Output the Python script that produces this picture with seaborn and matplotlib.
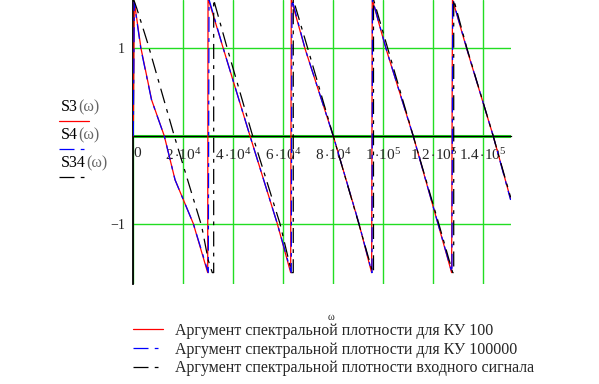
import numpy as np
import pandas as pd
import matplotlib
matplotlib.use("Agg")
import matplotlib.pyplot as plt
import seaborn as sns
from matplotlib.lines import Line2D

# ---- data (omega, argument in rad) ----
omega_s3 = [0, 400, 680, 3080, 7350, 12400, 16700, 24000, 29760, 29900,
            30680, 36000, 46700, 57600, 62960, 63200,
            68680, 80000, 90280, 95360, 95600,
            101080, 112000, 121880, 127360, 127700,
            133360, 144000, 150960]
phase_s3 = [0.0, 1.53, 1.48, 1.0, 0.41, 0.0, -0.5, -1.0, -1.56, 1.56,
            1.50, 1.0, 0.0, -1.0, -1.56, 1.56,
            1.0, 0.0, -1.0, -1.56, 1.56,
            1.0, 0.0, -1.0, -1.56, 1.56,
            1.0, 0.0, -0.72]

omega_s4 = [0, 400, 700, 3000, 7300, 12400, 16700, 24000, 30000, 30300,
            30900, 36000, 46700, 57600, 63200, 63500,
            68700, 80000, 90300, 95500, 95700,
            101100, 112000, 121900, 127500, 127800,
            133400, 144000, 150960]
phase_s4 = [0.0, 1.53, 1.46, 1.0, 0.41, 0.0, -0.5, -1.0, -1.56, 1.56,
            1.50, 1.0, 0.0, -1.0, -1.56, 1.56,
            1.0, 0.0, -1.0, -1.56, 1.56,
            1.0, 0.0, -1.0, -1.56, 1.56,
            1.0, 0.0, -0.73]

omega_s34 = [0, 1360, 5760, 16400, 27360, 30000, 31600, 32160, 32160,
             32700, 37600, 47760, 58680, 63360, 64000, 64000,
             69800, 80000, 90200, 95800, 96100, 96100,
             101800, 112000, 122200, 127800, 128200, 128200,
             133500, 144000, 150960]
phase_s34 = [1.57, 1.46, 1.06, 0.0, -1.03, -1.42, -1.56, -1.56, 1.56,
             1.50, 1.0, 0.0, -1.0, -1.56, -1.56, 1.56,
             1.0, 0.0, -1.0, -1.56, -1.56, 1.56,
             1.0, 0.0, -1.0, -1.56, -1.56, 1.56,
             1.0, 0.0, -0.70]

xtick_vals = [0, 2e4, 4e4, 6e4, 8e4, 1e5, 1.2e5, 1.4e5]
xtick_labels = ["0", r"$2\,{\cdot}10^{4}$", r"$4\,{\cdot}10^{4}$", r"$6\,{\cdot}10^{4}$",
                r"$8\,{\cdot}10^{4}$", r"$1\,{\cdot}10^{5}$", r"$1.2\,{\cdot}10^{5}$",
                r"$1.4\,{\cdot}10^{5}$"]
ytick_vals = [-1, 0, 1]
ytick_labels = ["\u22121", "", "1"]

legend_labels = ["Аргумент спектральной плотности для КУ 100",
                 "Аргумент спектральной плотности для КУ 100000",
                 "Аргумент спектральной плотности входного сигнала"]
series_names = ["S3", "S4", "S34"]

# ---- style ----
sns.set_theme(style="white")
plt.rcParams["font.family"] = ["Liberation Serif", "DejaVu Serif"]
plt.rcParams["mathtext.fontset"] = "custom"
plt.rcParams["mathtext.rm"] = "Liberation Serif"
plt.rcParams["mathtext.it"] = "Liberation Serif:italic"
plt.rcParams["mathtext.bf"] = "Liberation Serif:bold"

GREEN = "#22dd22"
RED = "#ff0000"
BLUE = "#0000ff"
BLACK = "#000000"
DASH = (0, (12, 5, 3, 5))

fig = plt.figure(figsize=(5.99, 3.84), dpi=100)
fig.patch.set_facecolor("white")
W, H = 599, 384
ax = fig.add_axes([133.3 / W, 100 / H, 377.4 / W, 284 / H])
ax.set_facecolor("white")

df3 = pd.DataFrame({"w": omega_s3, "v": phase_s3})
df4 = pd.DataFrame({"w": omega_s4, "v": phase_s4})
df34 = pd.DataFrame({"w": omega_s34, "v": phase_s34})

sns.lineplot(data=df3, x="w", y="v", sort=False, estimator=None, color=RED,
             lw=0.9, ax=ax, zorder=3)
sns.lineplot(data=df4, x="w", y="v", sort=False, estimator=None, color=BLUE,
             lw=0.9, linestyle=DASH, ax=ax, zorder=4)
sns.lineplot(data=df34, x="w", y="v", sort=False, estimator=None, color=BLACK,
             lw=0.9, linestyle=DASH, ax=ax, zorder=5)

ax.set_xlim(0, 1.51e5)
ax.set_ylim(-1.69, 1.553)
ax.set_xlabel("")
ax.set_ylabel("")

ax.set_xticks(xtick_vals)
ax.set_xticklabels(xtick_labels, fontsize=9.5)
ax.set_yticks(ytick_vals)
ax.set_yticklabels(ytick_labels, fontsize=10)

ax.grid(True, color=GREEN, lw=1.0)
ax.set_axisbelow(True)
ax.axhline(0, color=GREEN, lw=2.2, zorder=1)

for s in ["top", "right"]:
    ax.spines[s].set_visible(False)
ax.spines["left"].set_color(BLACK)
ax.spines["left"].set_linewidth(1.3)
ax.spines["bottom"].set_position(("data", 0))
ax.spines["bottom"].set_color(BLACK)
ax.spines["bottom"].set_linewidth(0.9)
ax.spines["bottom"].set_zorder(2)

ax.tick_params(axis="y", direction="out", length=4, width=0.9, color=BLACK, pad=2)
ax.tick_params(axis="x", direction="in", length=3, width=0.9, color=BLACK, pad=8)
lbls = ax.get_xticklabels()
lbls[0].set_ha("left")

# ---- stacked y-axis label with line samples ----
def fx(px):
    return px / W

def fy(py):
    return 1 - py / H

ylab_rows = [(107, 121, RED, "-"), (135, 149, BLUE, DASH), (163, 177, BLACK, DASH)]
for name, (ty, ly, col, ls) in zip(series_names, ylab_rows):
    t1 = fig.text(fx(61), fy(ty), name, fontsize=11.5, va="center", ha="left", color=BLACK)
    ax.annotate("(\u03c9)", xy=(1, 0), xycoords=t1, va="bottom", ha="left",
                fontsize=11.5, color="#666666", annotation_clip=False)
    fig.add_artist(Line2D([fx(59), fx(89)], [fy(ly), fy(ly)], color=col, lw=0.9,
                          linestyle=ls, transform=fig.transFigure))

# ---- x axis label ----
fig.text(fx(331), fy(317), "\u03c9", fontsize=7.5, ha="center", va="center")

# ---- legend ----
handles = [Line2D([], [], color=RED, lw=0.9),
           Line2D([], [], color=BLUE, lw=0.9, linestyle=DASH),
           Line2D([], [], color=BLACK, lw=0.9, linestyle=DASH)]
fig.legend(handles, legend_labels, loc="upper left",
           bbox_to_anchor=(fx(133), fy(323)), frameon=False,
           prop={"family": ["Liberation Serif", "DejaVu Serif"], "size": 11.5},
           handlelength=1.88, handletextpad=0.75, labelspacing=0.17,
           borderpad=0, borderaxespad=0)

fig.savefig("out.png", dpi=100, facecolor="white")
